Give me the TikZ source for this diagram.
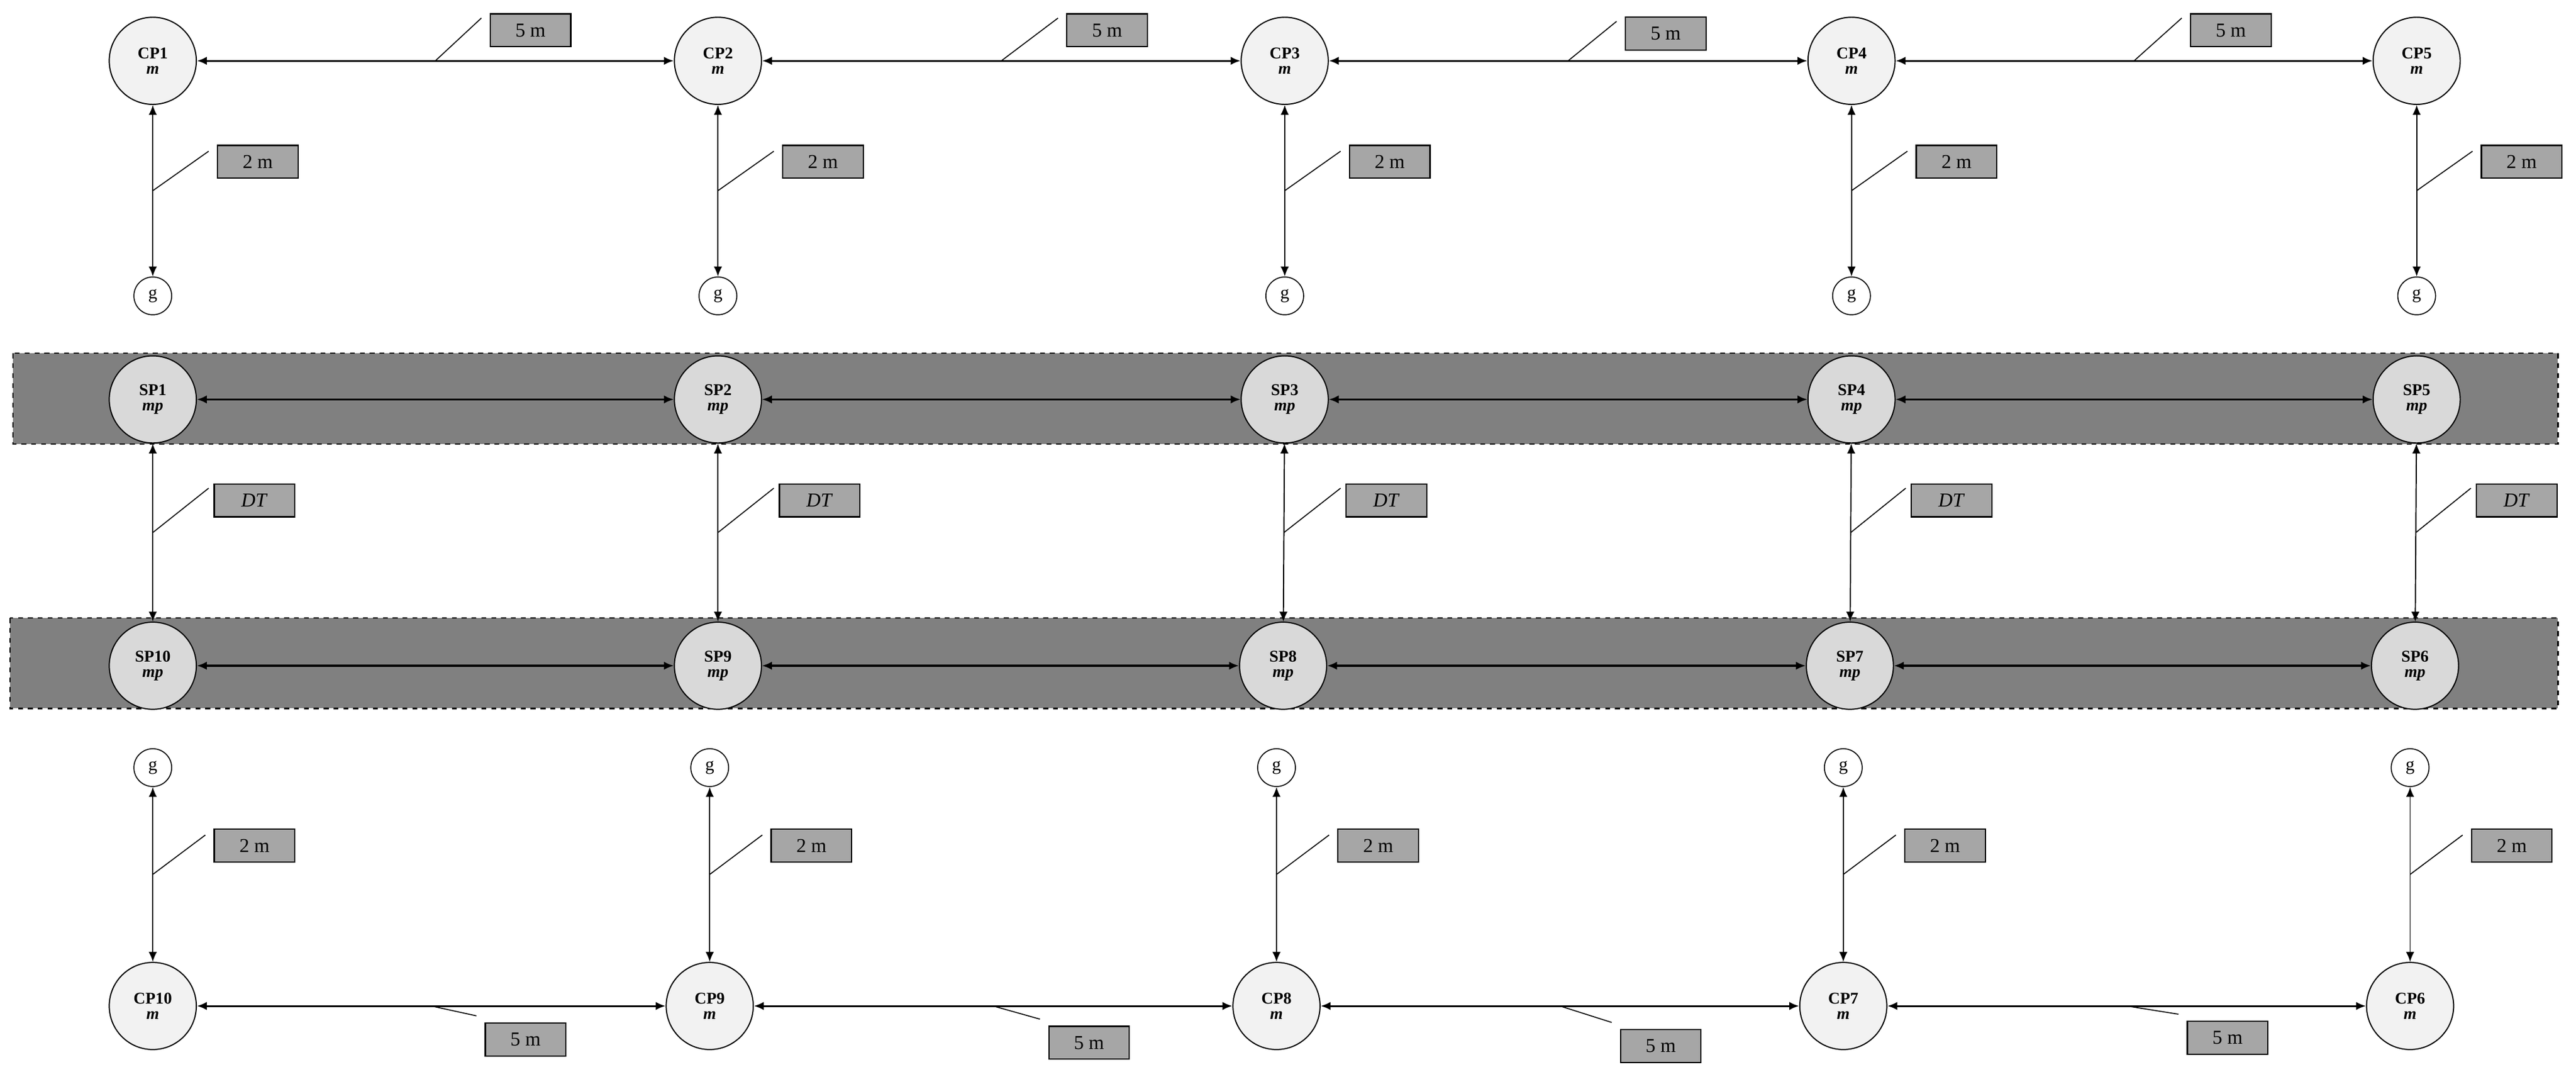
\documentclass[tikz,border=0pt]{standalone}
\usepackage{fontspec}
\setmainfont{Liberation Serif}
\usetikzlibrary{arrows.meta}
\tikzset{
 cp/.style={draw, circle, fill=#1, minimum width=53pt, inner sep=0pt, font=\fontsize{10}{10.5}\selectfont\bfseries, align=center, line width=0.7pt},
 gn/.style={draw, circle, minimum size=23pt, inner sep=0pt, fill=white, font=\fontsize{11}{11}\selectfont, line width=0.6pt},
 lab/.style={draw, fill=gray!70, minimum width=49pt, minimum height=20pt, inner sep=0pt, font=\fontsize{12}{12}\selectfont, line width=0.8pt},
 hcon/.style={{Latex[length=6pt,width=5pt]}-{Latex[length=6pt,width=5pt]}, line width=1.1pt},
 vcon/.style={{Latex[length=6pt,width=5pt]}-{Latex[length=6pt,width=5pt]}, line width=0.7pt},
 lead/.style={line width=0.6pt},
 band/.style={draw, dashed, fill=black!50, line width=0.8pt}
}
\begin{document}
\begin{tikzpicture}[x=1pt,y=-1pt]
\useasboundingbox (0,0) rectangle (1568,652);
\fill[white] (0,0) rectangle (1568,652);
% bands
\draw[band] (8,215) rectangle (1557,270);
\draw[band] (6,376) rectangle (1557,431);
% top CP row
\foreach \i/\x in {1/93,2/437,3/782,4/1127,5/1471}{
  \node[cp=black!5] (CP\i) at (\x,37) {CP\i\\[-1pt]\textit{m}};
  \node[gn] (gt\i) at (\x,180) {g};
  \draw[vcon] (CP\i) -- coordinate[pos=0.5] (vt\i) (gt\i);
  \node[lab,anchor=north west] (lt\i) at (\x+39,88) {2 m};
  \draw[lead] (vt\i) -- ([shift={(-5pt,-4pt)}]lt\i.north west);
}
% SP rows
\foreach \i/\x in {1/93,2/437,3/782,4/1127,5/1471}{
  \node[cp=black!15] (SP\i) at (\x,243) {SP\i\\[-1pt]\textit{mp}};
}
\foreach \i/\x in {10/93,9/437,8/781,7/1126,6/1470}{
  \node[cp=black!15] (SP\i) at (\x,405) {SP\i\\[-1pt]\textit{mp}};
}
% bottom CP row
\foreach \i/\x in {10/93,9/432,8/777,7/1122,6/1467}{
  \node[cp=black!5] (CP\i) at (\x,612) {CP\i\\[-1pt]\textit{m}};
  \node[gn] (gb\i) at (\x,467) {g};
  \draw[vcon] (gb\i) -- coordinate[pos=0.5] (vb\i) (CP\i);
  \node[lab,anchor=north west] (lb\i) at (\x+37,504) {2 m};
  \draw[lead] (vb\i) -- ([shift={(-5pt,-4pt)}]lb\i.north west);
}
% DT connectors
\foreach \a/\b/\x in {1/10/93,2/9/437,3/8/782,4/7/1126,5/6/1470}{
  \draw[vcon] (SP\a) -- coordinate[pos=0.5] (dt\a) (SP\b);
  \node[lab,anchor=north west] (ld\a) at (\x+37,294) {\textit{DT}};
  \draw[lead] (dt\a) -- ([shift={(-3pt,-3pt)}]ld\a.north west);
}
% top horizontal
\foreach \a/\b/\bx/\by in {1/2/298/8,2/3/649/8,3/4/989/10,4/5/1333/8}{
  \draw[hcon] (CP\a) -- coordinate[pos=0.5] (h\a) (CP\b);
  \node[lab,anchor=north west] (lh\a) at (\bx,\by) {5 m};
  \draw[lead] (h\a) -- ([shift={(-5pt,-3pt)}]lh\a.north west);
}
% SP horizontals
\foreach \a/\b in {1/2,2/3,3/4,4/5,10/9,9/8,8/7,7/6}{
  \draw[hcon] (SP\a) -- (SP\b);
}
% bottom horizontal
\foreach \a/\b/\bx/\by in {10/9/295/622,9/8/638/624,8/7/986/626,7/6/1331/621}{
  \draw[hcon] (CP\a) -- coordinate[pos=0.5] (hb\a) (CP\b);
  \node[lab,anchor=north west] (lbb\a) at (\bx,\by) {5 m};
  \draw[lead] (hb\a) -- ([shift={(-5pt,4pt)}]lbb\a.north west);
}
\end{tikzpicture}
\end{document}
